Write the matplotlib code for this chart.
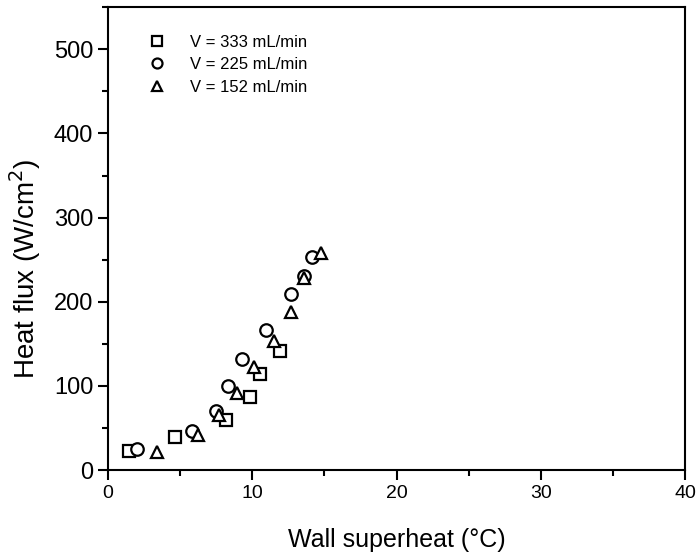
import matplotlib
matplotlib.use('Agg')
from matplotlib import pyplot as plt
from matplotlib.ticker import MultipleLocator

plt.rcParams['font.family'] = ['Liberation Sans', 'DejaVu Sans']

# V = 333 mL/min
sq_x = [1.5, 4.65, 8.2, 9.86, 10.56, 11.94]
sq_y = [22.5, 39.4, 60, 86.7, 114, 142]
# V = 225 mL/min
ci_x = [2.04, 5.81, 7.5, 8.36, 9.28, 10.97, 12.69, 13.6, 14.14]
ci_y = [24.8, 46, 69.7, 99.7, 132, 167, 209.6, 231, 253]
# V = 152 mL/min
tr_x = [3.38, 6.27, 7.7, 8.98, 10.16, 11.48, 12.69, 13.6, 14.77]
tr_y = [21.6, 41.4, 65.8, 91.8, 122, 153.7, 188, 228.5, 258]

fig = plt.figure(figsize=(7, 5.53), dpi=100)
ax = fig.add_axes([0.154, 0.150, 0.825, 0.837])

style = dict(ls='none', mfc='white', mec='black', mew=1.6, ms=9)
ax.plot(sq_x, sq_y, marker='s', label='V = 333 mL/min', **style)
ax.plot(ci_x, ci_y, marker='o', label='V = 225 mL/min', **style)
ax.plot(tr_x, tr_y, marker='^', label='V = 152 mL/min', **style)

ax.set_xlim(0, 40)
ax.set_ylim(0, 550)
ax.xaxis.set_major_locator(MultipleLocator(10))
ax.xaxis.set_minor_locator(MultipleLocator(5))
ax.yaxis.set_major_locator(MultipleLocator(100))
ax.yaxis.set_minor_locator(MultipleLocator(50))
ax.tick_params(which='both', direction='out', width=1.5, top=False, right=False)
ax.tick_params(axis='x', labelsize=14)
ax.tick_params(axis='y', labelsize=17)
ax.tick_params(which='major', length=7)
ax.tick_params(which='minor', length=4)
for s in ax.spines.values():
    s.set_linewidth(1.5)

ax.set_xlabel('Wall superheat (°C)', fontsize=18, labelpad=19)
ax.set_ylabel('Heat flux (W/cm$^2$)', fontsize=20)
ax.yaxis.set_label_coords(-0.113, 0.434)

ax.legend(loc='upper left', bbox_to_anchor=(0.045, 0.955), frameon=False,
          fontsize=12, markerscale=0.8, handletextpad=1.0, labelspacing=0.45,
          borderaxespad=0)

fig.savefig('out.png', dpi=100)
